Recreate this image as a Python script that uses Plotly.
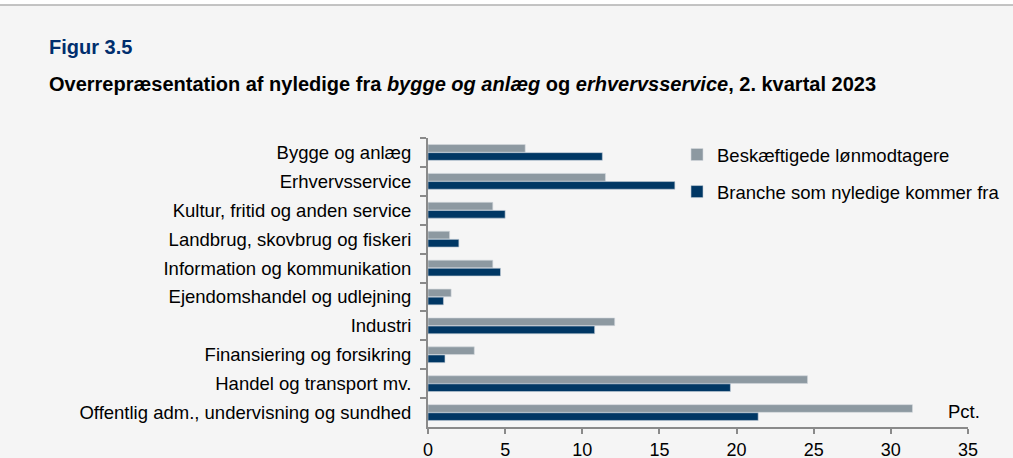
import plotly.graph_objects as go

categories = [
    "Bygge og anlæg",
    "Erhvervsservice",
    "Kultur, fritid og anden service",
    "Landbrug, skovbrug og fiskeri",
    "Information og kommunikation",
    "Ejendomshandel og udlejning",
    "Industri",
    "Finansiering og forsikring",
    "Handel og transport mv.",
    "Offentlig adm., undervisning og sundhed",
]
beskaeftigede = [6.3, 11.5, 4.2, 1.4, 4.2, 1.5, 12.1, 3.0, 24.6, 31.4]
nyledige = [11.3, 16.0, 5.0, 2.0, 4.7, 1.0, 10.8, 1.1, 19.6, 21.4]
x_ticks = [0, 5, 10, 15, 20, 25, 30, 35]

GREY = "#8d99a1"
NAVY = "#003764"
BG = "#f5f5f5"
FONT = "Liberation Sans, Arial, sans-serif"
FS = 18.5

fig = go.Figure()
fig.add_trace(go.Bar(
    y=categories, x=beskaeftigede, orientation="h", name="Beskæftigede lønmodtagere",
    marker=dict(color=GREY, line=dict(color="#d3d9de", width=0.6)), legendgroup="a",
))
fig.add_trace(go.Bar(
    y=categories, x=nyledige, orientation="h", name="Branche som nyledige kommer fra",
    marker=dict(color=NAVY, line=dict(color="#c5ced8", width=0.6)), legendgroup="b",
))

W, H = 1013, 458
L, R, T, B = 428, 45, 138, 31
pw, ph = W - L - R, H - T - B

def px(x):
    return (x - L) / pw

def py(y):
    return (H - B - y) / ph

fig.update_layout(
    width=W, height=H,
    margin=dict(l=L, r=R, t=T, b=B, pad=0, autoexpand=False),
    paper_bgcolor="#ffffff", plot_bgcolor="rgba(0,0,0,0)",
    barmode="group", bargap=0.44, bargroupgap=0.05,
    font=dict(family=FONT, size=FS, color="#000000"),
    showlegend=True,
    legend=dict(
        x=px(677), y=py(136), xanchor="left", yanchor="top",
        bgcolor="rgba(0,0,0,0)", font=dict(size=FS, color="#000000"),
        tracegroupgap=10, itemwidth=30,
    ),
    xaxis=dict(
        range=[0, 35], tickvals=x_ticks, ticktext=[str(v) for v in x_ticks],
        showgrid=False, zeroline=False, showline=True, linecolor="#8a8a8a", linewidth=2,
        ticks="outside", ticklen=5, tickwidth=2, tickcolor="#8a8a8a",
        tickfont=dict(size=18, color="#000000"), fixedrange=True, automargin=False,
    ),
    yaxis=dict(
        autorange="reversed", showgrid=False, zeroline=False,
        showline=True, linecolor="#8a8a8a", linewidth=2,
        ticks="outside", ticklen=6, tickwidth=2, tickcolor="#8a8a8a",
        tickson="boundaries", ticklabelstandoff=11,
        tickfont=dict(size=FS, color="#000000"), fixedrange=True, automargin=False,
    ),
    annotations=[
        dict(text="<b>Figur 3.5</b>", xref="paper", yref="paper",
             x=px(47), y=py(47), xanchor="left", yanchor="middle", showarrow=False,
             font=dict(size=20, color="#002e6e", family=FONT)),
        dict(text="<b>Overrepræsentation af nyledige fra <i>bygge og anlæg</i> og <i>erhvervsservice</i>, 2. kvartal 2023</b>",
             xref="paper", yref="paper",
             x=px(47), y=py(84), xanchor="left", yanchor="middle", showarrow=False,
             font=dict(size=20, color="#000000", family=FONT)),
        dict(text="Pct.", xref="paper", yref="paper",
             x=px(982), y=py(411), xanchor="right", yanchor="middle", showarrow=False,
             font=dict(size=FS, color="#000000", family=FONT)),
    ],
    shapes=[
        dict(type="rect", xref="paper", yref="paper", layer="below",
             x0=px(0), x1=px(W), y0=py(H), y1=py(5),
             fillcolor=BG, line=dict(width=0)),
        dict(type="line", xref="paper", yref="paper",
             x0=px(0), x1=px(W), y0=py(5), y1=py(5),
             line=dict(color="#b0b0b0", width=1.5)),
    ],
)

fig.write_html(
    "out.html",
    config={"displayModeBar": False},
    post_script="document.body.style.margin='0';document.body.style.overflow='hidden';",
)
